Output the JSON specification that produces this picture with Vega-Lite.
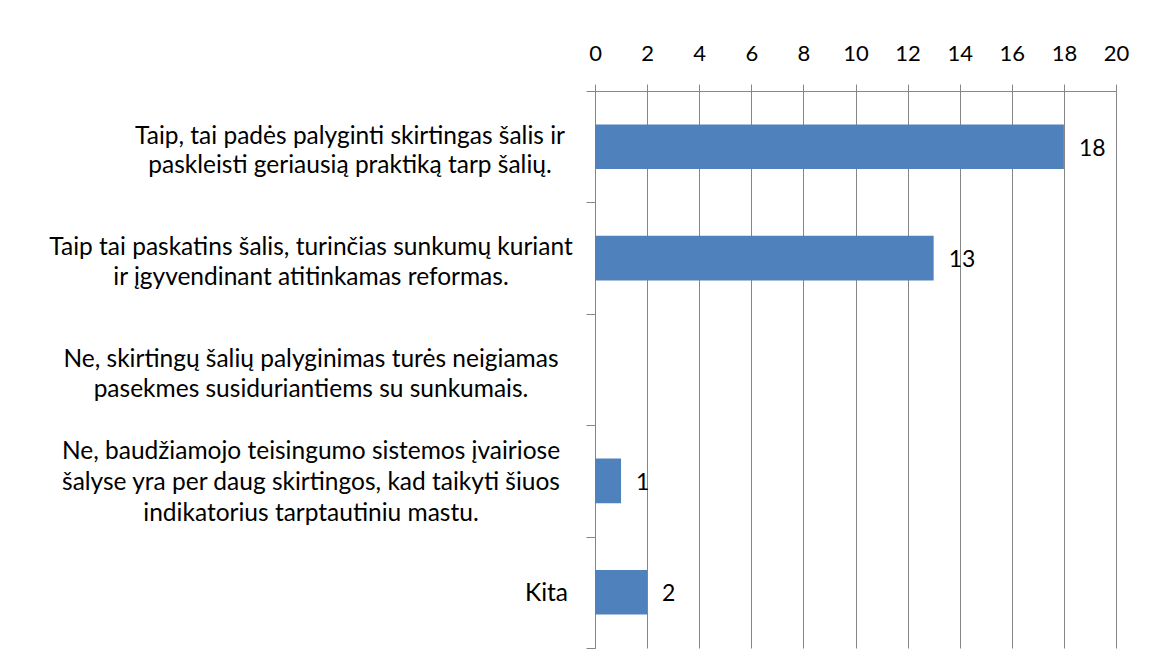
{
  "$schema": "https://vega.github.io/schema/vega-lite/v6.json",
  "autosize": {"type": "none"},
  "width": 521,
  "height": 557,
  "padding": {"left": 595, "top": 91, "right": 44, "bottom": 24},
  "background": "white",
  "config": {"view": {"stroke": null}, "font": "Lato"},
  "data": {
    "values": [
      {"cat": "A", "lines": ["Taip, tai padės palyginti skirtingas šalis ir", "paskleisti geriausią praktiką tarp šalių."], "value": 18},
      {"cat": "B", "lines": ["Taip tai paskatins šalis, turinčias sunkumų kuriant", "ir įgyvendinant atitinkamas reformas."], "value": 13},
      {"cat": "C", "lines": ["Ne, skirtingų šalių palyginimas turės neigiamas", "pasekmes susiduriantiems su sunkumais."], "value": 0},
      {"cat": "D", "lines": ["Ne, baudžiamojo teisingumo sistemos įvairiose", "šalyse yra per daug skirtingos, kad taikyti šiuos", "indikatorius tarptautiniu mastu."], "value": 1},
      {"cat": "E", "lines": ["Kita"], "value": 2}
    ]
  },
  "encoding": {
    "y": {
      "field": "cat",
      "type": "nominal",
      "sort": null,
      "scale": {"paddingInner": 0, "paddingOuter": 0},
      "axis": {
        "title": null,
        "orient": "left",
        "labels": false,
        "tickBand": "extent",
        "tickSize": 9,
        "tickColor": "#868686",
        "domainColor": "#868686",
        "grid": false
      }
    }
  },
  "layer": [
    {
      "mark": {"type": "bar", "color": "#4F81BD", "height": {"band": 0.4}},
      "encoding": {
        "x": {
          "field": "value",
          "type": "quantitative",
          "scale": {"domain": [0, 20], "nice": false},
          "axis": {
            "title": null,
            "orient": "top",
            "values": [0, 2, 4, 6, 8, 10, 12, 14, 16, 18, 20],
            "grid": true,
            "gridColor": "#868686",
            "gridOpacity": 1,
            "tickColor": "#868686",
            "domainColor": "#868686",
            "tickSize": 7,
            "labelFontSize": 22,
            "labelFontWeight": "normal",
            "labelColor": "#000000",
            "labelPadding": 19,
            "labelFlush": false,
            "labelOverlap": false,
            "labelFont": "Lato"
          }
        }
      }
    },
    {
      "transform": [{"filter": "datum.value > 0"}],
      "mark": {"type": "text", "align": "left", "baseline": "middle", "dx": 15, "dy": 2, "fontSize": 23, "color": "#000000"},
      "encoding": {
        "x": {"field": "value", "type": "quantitative"},
        "text": {"field": "value", "type": "quantitative"}
      }
    },
    {
      "transform": [{"filter": "datum.cat == 'A'"}],
      "mark": {"type": "text", "align": "center", "baseline": "middle", "dx": -245, "dy": -10, "fontSize": 24.5, "lineHeight": 29, "color": "#000000"},
      "encoding": {
        "x": {"datum": 0, "type": "quantitative"},
        "text": {"field": "lines", "type": "nominal"}
      }
    },
    {
      "transform": [{"filter": "datum.cat == 'B' || datum.cat == 'C'"}],
      "mark": {"type": "text", "align": "center", "baseline": "middle", "dx": -284, "dy": -10, "fontSize": 24.5, "lineHeight": 30, "color": "#000000"},
      "encoding": {
        "x": {"datum": 0, "type": "quantitative"},
        "text": {"field": "lines", "type": "nominal"}
      }
    },
    {
      "transform": [{"filter": "datum.cat == 'D'"}],
      "mark": {"type": "text", "align": "center", "baseline": "middle", "dx": -284, "dy": -29, "fontSize": 24.5, "lineHeight": 31, "color": "#000000"},
      "encoding": {
        "x": {"datum": 0, "type": "quantitative"},
        "text": {"field": "lines", "type": "nominal"}
      }
    },
    {
      "transform": [{"filter": "datum.cat == 'E'"}],
      "mark": {"type": "text", "align": "right", "baseline": "middle", "dx": -27, "dy": 2, "fontSize": 24.5, "color": "#000000"},
      "encoding": {
        "x": {"datum": 0, "type": "quantitative"},
        "text": {"field": "lines", "type": "nominal"}
      }
    }
  ]
}
